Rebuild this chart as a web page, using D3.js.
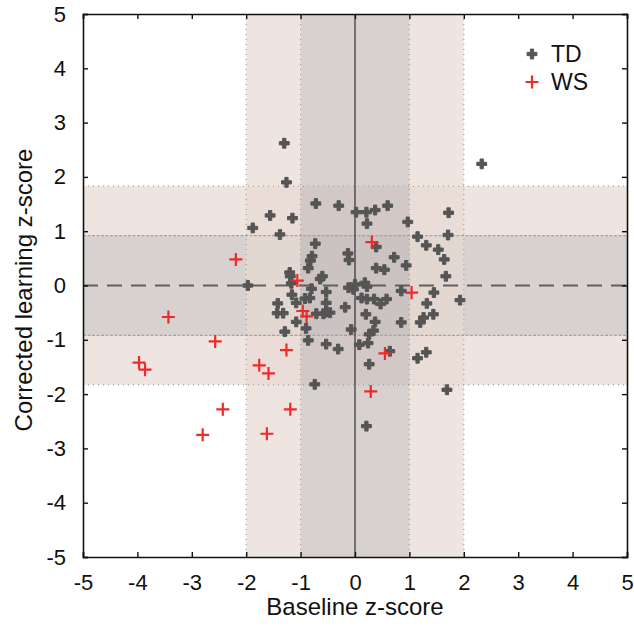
<!DOCTYPE html>
<html>
<head>
<meta charset="utf-8">
<script src="https://cdn.jsdelivr.net/npm/d3@7"></script>
<style>
body { margin: 0; background: #fff; }
text { font-family: Arial, "Liberation Sans", sans-serif; }
</style>
</head>
<body>
<svg id="chart" width="634" height="632"></svg>
<script>
// TD group (baseline z, corrected learning z)
var tdPoints = [
  [-1.30, 2.62], [-1.26, 1.90], [-0.72, 1.51], [-0.30, 1.47], [0.02, 1.35],
  [0.21, 1.35], [0.37, 1.39], [0.60, 1.47], [-1.56, 1.29], [-1.15, 1.24],
  [-1.88, 1.06], [-1.38, 0.94], [0.22, 1.14], [0.97, 1.17], [1.72, 1.34],
  [1.15, 0.90], [1.71, 0.93], [-0.73, 0.77], [0.39, 0.71], [1.31, 0.74],
  [1.53, 0.66], [1.64, 0.48], [0.72, 0.52], [0.94, 0.37], [0.39, 0.32],
  [0.54, 0.29], [1.67, 0.17], [-0.79, 0.54], [-0.82, 0.46], [-0.86, 0.32],
  [-0.13, 0.59], [-0.11, 0.47], [-1.20, 0.24], [-1.19, 0.17], [-0.60, 0.17],
  [-0.64, 0.12], [-1.97, 0.00], [-1.17, 0.04], [-1.16, -0.17], [-0.80, -0.06],
  [-0.12, -0.04], [-0.03, -0.07], [-0.53, -0.12], [-0.83, -0.23], [-0.92, -0.24],
  [-0.53, -0.32], [-1.42, -0.33], [-1.08, -0.32], [-0.18, -0.40], [-0.53, -0.49],
  [-1.43, -0.51], [-1.32, -0.51], [-0.71, -0.52], [-0.58, -0.52], [-0.46, -0.50],
  [-1.08, -0.67], [-0.90, -0.79], [-0.07, -0.81], [-1.29, -0.85], [-0.86, -1.01],
  [-0.53, -1.08], [-0.31, -1.17], [-0.74, -1.82], [0.18, 0.05], [0.22, -0.02],
  [0.00, 0.02], [0.85, -0.10], [1.45, -0.13], [1.93, -0.27], [0.12, -0.23],
  [0.22, -0.25], [0.35, -0.25], [0.58, -0.25], [0.47, -0.34], [1.32, -0.33],
  [0.20, -0.53], [1.44, -0.53], [0.85, -0.68], [0.37, -0.67], [1.26, -0.59],
  [1.20, -0.68], [0.34, -0.83], [0.26, -0.90], [0.08, -1.09], [0.24, -1.06],
  [0.64, -1.21], [1.15, -1.34], [1.31, -1.23], [0.26, -1.45], [1.69, -1.92],
  [0.21, -2.59], [2.33, 2.24]
];

// WS group
var wsPoints = [
  [-2.19, 0.48], [0.31, 0.80], [-1.06, 0.09], [1.04, -0.13], [-3.43, -0.58],
  [-2.57, -1.03], [-3.97, -1.42], [-3.86, -1.55], [-2.43, -2.28], [-2.80, -2.75],
  [-1.76, -1.47], [-1.59, -1.62], [-1.26, -1.19], [-1.19, -2.28], [-1.62, -2.73],
  [-0.96, -0.47], [-0.89, -0.57], [0.55, -1.25], [0.29, -1.95]
];

var tickValues = [-5, -4, -3, -2, -1, 0, 1, 2, 3, 4, 5];
var xCuts = [1, 2];        // vertical bands: |x| < 1 grey, 1..2 pink
var yCuts = [0.92, 1.83];  // horizontal bands: |y| < 0.92 grey, 0.92..1.83 pink
var legendItems = ["TD", "WS"];

var svg = d3.select("#chart");
var x = d3.scaleLinear().domain([-5, 5]).range([83, 627]);
var y = d3.scaleLinear().domain([-5, 5]).range([557, 14]);

var pink = "#e8dad3", grey = "#c6bebb";

// horizontal bands
var hBands = [
  [yCuts[0], yCuts[1], pink], [-yCuts[1], -yCuts[0], pink], [-yCuts[0], yCuts[0], grey]
];
var vBands = [
  [xCuts[0], xCuts[1], pink], [-xCuts[1], -xCuts[0], pink], [-xCuts[0], xCuts[0], grey]
];

svg.append("g").selectAll("rect").data(hBands).enter().append("rect")
  .attr("x", x(-5)).attr("width", x(5) - x(-5))
  .attr("y", function(d) { return y(d[1]); })
  .attr("height", function(d) { return y(d[0]) - y(d[1]); })
  .attr("fill", function(d) { return d[2]; })
  .attr("fill-opacity", 0.7);

svg.append("g").selectAll("rect").data(vBands).enter().append("rect")
  .attr("y", y(5)).attr("height", y(-5) - y(5))
  .attr("x", function(d) { return x(d[0]); })
  .attr("width", function(d) { return x(d[1]) - x(d[0]); })
  .attr("fill", function(d) { return d[2]; })
  .attr("fill-opacity", 0.7);

// band edges
var edges = svg.append("g");
[-xCuts[1], -xCuts[0], xCuts[0], xCuts[1]].forEach(function(v) {
  edges.append("line")
    .attr("x1", x(v)).attr("x2", x(v)).attr("y1", y(5)).attr("y2", y(-5))
    .attr("stroke", "#a99d99").attr("stroke-width", 1.2).attr("stroke-dasharray", "1,4");
});
[-yCuts[1], yCuts[1]].forEach(function(v) {
  edges.append("line")
    .attr("x1", x(-5)).attr("x2", x(5)).attr("y1", y(v)).attr("y2", y(v))
    .attr("stroke", "#a99d99").attr("stroke-width", 1.2).attr("stroke-dasharray", "1,4");
});
[-yCuts[0], yCuts[0]].forEach(function(v) {
  edges.append("line")
    .attr("x1", x(-5)).attr("x2", x(5)).attr("y1", y(v)).attr("y2", y(v))
    .attr("stroke", "#aaa09d").attr("stroke-width", 1.3).attr("stroke-dasharray", "3,1.5");
});

// zero lines
svg.append("line")
  .attr("x1", x(-5)).attr("x2", x(5)).attr("y1", y(0)).attr("y2", y(0))
  .attr("stroke", "#606060").attr("stroke-width", 2).attr("stroke-dasharray", "15,9");
svg.append("line")
  .attr("x1", x(0)).attr("x2", x(0)).attr("y1", y(5)).attr("y2", y(-5))
  .attr("stroke", "#111").attr("stroke-width", 1);

// markers
var tdSymbol = d3.symbol().type(d3.symbolCross).size(54);
function wsPath(s) { return "M" + (-s) + ",0H" + s + "M0," + (-s) + "V" + s; }

svg.append("g").selectAll("path").data(tdPoints).enter().append("path")
  .attr("d", tdSymbol)
  .attr("transform", function(d) { return "translate(" + x(d[0]) + "," + y(d[1]) + ")"; })
  .attr("fill", "#555555")
  .attr("stroke", "#555555").attr("stroke-width", 1).attr("stroke-linejoin", "round");

svg.append("g").selectAll("path").data(wsPoints).enter().append("path")
  .attr("d", wsPath(6.5))
  .attr("transform", function(d) { return "translate(" + x(d[0]) + "," + y(d[1]) + ")"; })
  .attr("fill", "none")
  .attr("stroke", "#ee2a2a").attr("stroke-width", 2.2);

// axes (box with inward ticks)
function styleAxis(g) {
  g.select(".domain").attr("stroke", "#111").attr("stroke-width", 1.6);
  g.selectAll(".tick line").attr("stroke", "#111").attr("stroke-width", 1.4);
  g.selectAll("text").attr("fill", "#111").attr("font-size", 22)
    .attr("font-family", "Arial, 'Liberation Sans', sans-serif");
}
var fmt = function(d) { return String(d); };

svg.append("g").attr("transform", "translate(0," + y(-5) + ")")
  .call(d3.axisBottom(x).tickValues(tickValues).tickSize(-5).tickPadding(17).tickFormat(fmt))
  .call(styleAxis);
svg.append("g").attr("transform", "translate(" + x(-5) + ",0)")
  .call(d3.axisLeft(y).tickValues(tickValues).tickSize(-5).tickPadding(17).tickFormat(fmt))
  .call(styleAxis);
svg.append("g").attr("transform", "translate(0," + y(5) + ")")
  .call(d3.axisTop(x).tickValues(tickValues).tickSize(-5).tickFormat(""))
  .call(styleAxis);
svg.append("g").attr("transform", "translate(" + x(5) + ",0)")
  .call(d3.axisRight(y).tickValues(tickValues).tickSize(-5).tickFormat(""))
  .call(styleAxis);

// axis titles
svg.append("text")
  .attr("x", x(0)).attr("y", 615)
  .attr("text-anchor", "middle").attr("font-size", 24).attr("fill", "#111")
  .text("Baseline z-score");
svg.append("text")
  .attr("transform", "translate(32,290) rotate(-90)")
  .attr("text-anchor", "middle").attr("font-size", 24).attr("fill", "#111")
  .text("Corrected learning z-score");

// legend
var leg = svg.append("g").attr("transform", "translate(532,54)");
leg.append("path").attr("d", tdSymbol)
  .attr("fill", "#555555").attr("stroke", "#555555").attr("stroke-width", 1);
leg.append("path").attr("d", wsPath(6.5)).attr("transform", "translate(0,28)")
  .attr("fill", "none").attr("stroke", "#ee2a2a").attr("stroke-width", 2.2);
leg.selectAll("text").data(legendItems).enter().append("text")
  .attr("x", 19).attr("y", function(d, i) { return 8 + i * 28; })
  .attr("font-size", 23).attr("fill", "#111")
  .text(function(d) { return d; });
</script>
</body>
</html>
